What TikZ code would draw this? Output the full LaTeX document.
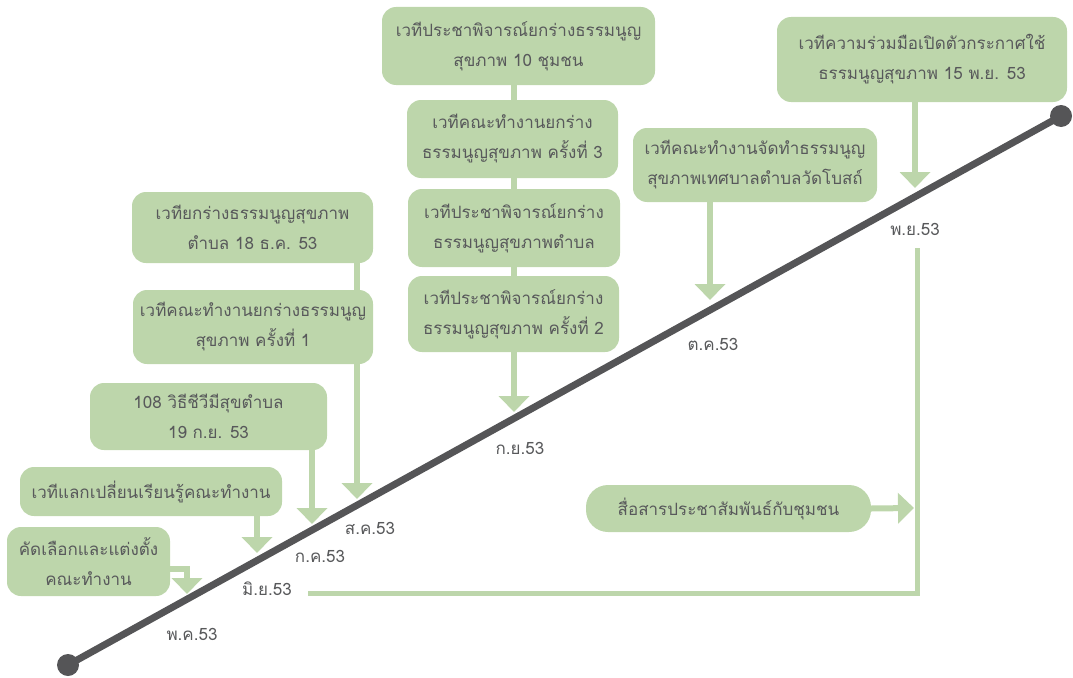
\documentclass[tikz,border=0pt]{standalone}
\usepackage{fontspec}
\setmainfont{Loma}[Script=Thai]
\usetikzlibrary{arrows.meta,backgrounds}
\definecolor{boxgreen}{RGB}{189,214,171}
\definecolor{ink}{RGB}{88,89,91}
\definecolor{axis}{RGB}{85,85,87}
\begin{document}
\begin{tikzpicture}[x=1pt,y=-1pt,
  evbox/.style={fill=boxgreen,rounded corners=14pt,text=ink,align=center,
    inner sep=0pt,font=\fontsize{17}{30}\selectfont},
  month/.style={text=ink,inner sep=0pt,font=\fontsize{17}{20}\selectfont},
  conn/.style={draw=boxgreen,line width=6pt},
  arr/.style={conn,-{Triangle[width=30pt,length=16pt]}},
  dot/.style={circle,fill=axis,minimum size=22pt,inner sep=0pt},
  axisline/.style={draw=axis,line width=7pt}]
\useasboundingbox (0,0) rectangle (1073,677);

% timeline
\node[dot] (t0) at (68,665) {};
\node[dot] (t1) at (1061,116) {};
\draw[axisline] (t0.center) -- (t1.center);

% event boxes
\node[evbox,minimum width=273pt,minimum height=78pt] (b1) at (518.5,46) {เวทีประชาพิจารณ์ยกร่างธรรมนูญ\\สุขภาพ 10 ชุมชน};
\node[evbox,minimum width=211pt,minimum height=78pt] (b2) at (512.5,139) {เวทีคณะทำงานยกร่าง\\ธรรมนูญสุขภาพ ครั้งที่ 3};
\node[evbox,minimum width=212pt,minimum height=78pt] (b3) at (514,228) {เวทีประชาพิจารณ์ยกร่าง\\ธรรมนูญสุขภาพตำบล};
\node[evbox,minimum width=211pt,minimum height=76pt] (b4) at (513.5,314) {เวทีประชาพิจารณ์ยกร่าง\\ธรรมนูญสุขภาพ ครั้งที่ 2};
\node[evbox,minimum width=244pt,minimum height=74pt] (b5) at (755,165) {เวทีคณะทำงานจัดทำธรรมนูญ\\สุขภาพเทศบาลตำบลวัดโบสถ์};
\node[evbox,minimum width=290pt,minimum height=85pt] (b6) at (922,59.5) {เวทีความร่วมมือเปิดตัวกระกาศใช้\\ธรรมนูญสุขภาพ 15 พ.ย. 53};
\node[evbox,rounded corners=22pt,minimum width=285pt,minimum height=47pt] (b7) at (728.5,508.5) {สื่อสารประชาสัมพันธ์กับชุมชน};
\node[evbox,minimum width=241pt,minimum height=71pt] (b8) at (252.5,227.5) {เวทียกร่างธรรมนูญสุขภาพ\\ตำบล 18 ธ.ค. 53};
\node[evbox,minimum width=240pt,minimum height=74pt] (b9) at (253,327) {เวทีคณะทำงานยกร่างธรรมนูญ\\สุขภาพ ครั้งที่ 1};
\node[evbox,minimum width=237pt,minimum height=67pt] (b10) at (208.5,416.5) {108 วิธีชีวีมีสุขตำบล\\19 ก.ย. 53};
\node[evbox,minimum width=262pt,minimum height=49pt] (b11) at (151,491.5) {เวทีแลกเปลี่ยนเรียนรู้คณะทำงาน};
\node[evbox,minimum width=163pt,minimum height=69pt] (b12) at (88.5,561.5) {คัดเลือกและแต่งตั้ง\\คณะทำงาน};

% month labels
\node[month] (may) at (192,634) {พ.ค.53};
\node[month] (jun) at (267,589) {มิ.ย.53};
\node[month] (jul) at (320,556) {ก.ค.53};
\node[month] (aug) at (370,528) {ส.ค.53};
\node[month] (sep) at (520,448) {ก.ย.53};
\node[month] (oct) at (713,344) {ต.ค.53};
\node[month] (nov) at (915,229) {พ.ย.53};

% arrow tips on the timeline
\coordinate (tipMay) at (187,594);
\coordinate (elbowMay) at (187,569);
\coordinate (tipJun) at (257,553);
\coordinate (tipJul) at (312,524);
\coordinate (tipAug) at (357,499);
\coordinate (tipSep) at (514,412);
\coordinate (tipOct) at (710,300);
\coordinate (tipNov) at (915,188);
\coordinate (tipCom) at (914,508);
\coordinate (runTop) at (917,248);
\coordinate (runCorner) at (917,593);
\coordinate (runEnd) at (308,593);

\begin{scope}[on background layer]
  \draw[arr] (b1.south -| tipSep) -- (tipSep);
  \draw[arr] (b8.south -| tipAug) -- (tipAug);
  \draw[arr] (b10.south -| tipJul) -- (tipJul);
  \draw[arr] (b11.south -| tipJun) -- (tipJun);
  \draw[arr] (b12.east |- elbowMay) -- (elbowMay) -- (tipMay);
  \draw[arr] (b5.south -| tipOct) -- (tipOct);
  \draw[arr] (b6.south -| tipNov) -- (tipNov);
  \draw[arr] (b7.east) -- (tipCom);
  \draw[conn,line width=5pt] (runTop) -- (runCorner) -- (runEnd);
\end{scope}
\end{tikzpicture}
\end{document}
